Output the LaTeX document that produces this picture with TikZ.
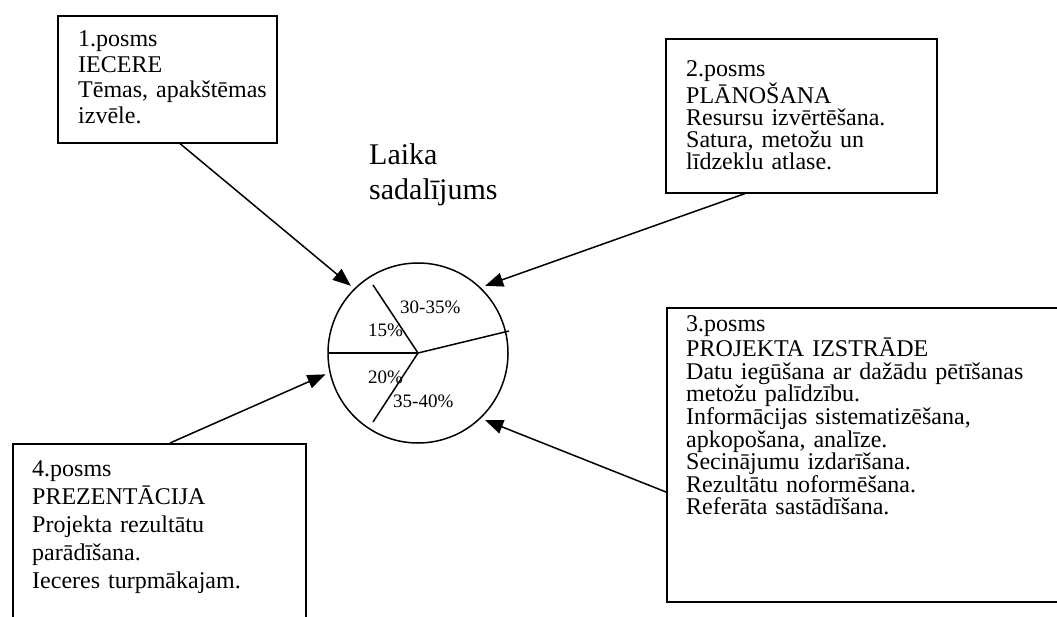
\documentclass[tikz,border=0pt]{standalone}
\usepackage{fontspec}
\setmainfont{Liberation Serif}
\usetikzlibrary{arrows.meta,calc}
\begin{document}
\begin{tikzpicture}[x=1pt,y=-1pt,
  box/.style={draw, line width=1.6pt, anchor=north west, inner sep=0pt},
  txt/.style={anchor=base west, inner sep=0pt, align=left, text width=380pt},
  arr/.style={line width=1.5pt, -{Triangle[length=18pt,width=14pt]}},
  spoke/.style={line width=1.5pt},
  pct/.style={anchor=base west, inner sep=0pt, font=\fontsize{19}{22}\selectfont}]
\useasboundingbox (0,0) rectangle (1057,617);
\fill[white] (0,0) rectangle (1057,617);
% boxes
\node[box, minimum width=219pt, minimum height=127pt] (b1) at (57,15) {};
\node[box, minimum width=271pt, minimum height=154pt] (b2) at (665,38) {};
\node[box, minimum width=399pt, minimum height=294pt] (b3) at (666,307) {};
\node[box, minimum width=293pt, minimum height=187pt] (b4) at (12,443) {};
% texts
\node[txt, font=\fontsize{24}{25.5}\selectfont] (t1) at (78,47) {1.posms\\IECERE\\Tēmas, apakštēmas\\izvēle.};
\node[txt, font=\fontsize{24}{22}\selectfont] (t2) at (686,77) {2.posms\\PLĀNOŠANA\\Resursu izvērtēšana.\\Satura, metožu un\\līdzeklu atlase.};
\node[txt, font=\fontsize{24}{22.6}\selectfont] (t3) at (686,332) {3.posms\\PROJEKTA IZSTRĀDE\\Datu iegūšana ar dažādu pētīšanas\\metožu palīdzību.\\Informācijas sistematizēšana,\\apkopošana, analīze.\\Secinājumu izdarīšana.\\Rezultātu noformēšana.\\Referāta sastādīšana.};
\node[txt, font=\fontsize{24}{28}\selectfont] (t4) at (32,476) {4.posms\\PREZENTĀCIJA\\Projekta rezultātu\\parādīšana.\\Ieceres turpmākajam.};
\node[txt, font=\fontsize{30}{35}\selectfont] (lk) at (369,165) {Laika\\sadalījums};
% pie
\node[draw, circle, line width=1.5pt, minimum size=180pt, inner sep=0pt, outer sep=5pt] (pie) at (418,353) {};
\draw[spoke] (pie.center) -- ++(-45,-68);
\draw[spoke] (pie.center) -- ++(-90,0);
\draw[spoke] (pie.center) -- ++(91,-22);
\draw[spoke] (pie.center) -- ++(-45,69);
\node[pct] (p1) at (400,314) {30-35\%};
\node[pct] (p2) at (368,337) {15\%};
\node[pct] (p3) at (368,383) {20\%};
\node[pct] (p4) at (393,407) {35-40\%};
% arrows
\draw[arr] ([xshift=123pt]b1.south west) -- (pie.135);
\draw[arr] ([xshift=80pt]b2.south west) -- (pie.45);
\draw[arr] ([yshift=-185pt]b3.north west) -- (pie.-45);
\draw[arr] ([xshift=158pt]b4.north west) -- (pie.193.7);
\end{tikzpicture}
\end{document}
